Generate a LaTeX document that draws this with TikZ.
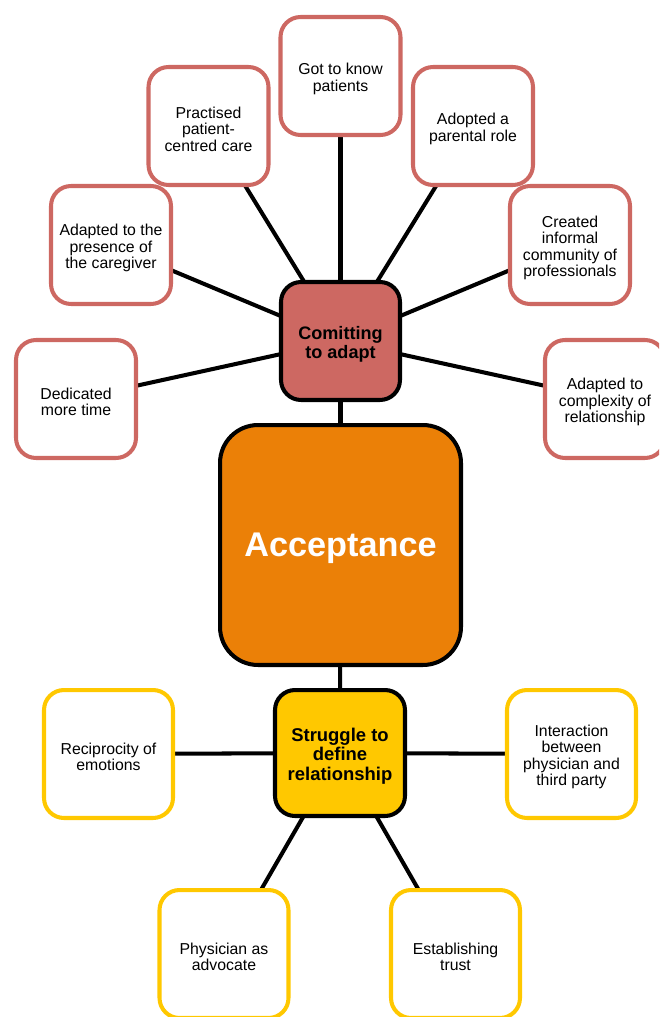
\documentclass[tikz,border=0pt]{standalone}
\usepackage{fontspec}
\setmainfont{Liberation Sans}
\usetikzlibrary{backgrounds}

\definecolor{adaptred}{HTML}{CD6862}
\definecolor{acceptorange}{HTML}{EB8007}
\definecolor{strugglegold}{HTML}{FFC800}
% a little room above the first line, so the text sits lower in its box
\newcommand\capgap{\rule{0pt}{\dimexpr\fontcharht\font`\A+3.8pt\relax}}

\begin{document}
\begin{tikzpicture}[x=0.02cm,y=-0.02cm,
        leaf/.style={draw,line width=2.3pt,fill=white,rounded corners=0.4cm,
            align=center,inner sep=2pt,font=\fontsize{9}{9.3}\selectfont},
        redleaf/.style={leaf,draw=adaptred,minimum width=2.4cm,minimum height=2.36cm},
        goldleaf/.style={leaf,draw=strugglegold,minimum width=2.58cm,minimum height=2.56cm},
        hub/.style={draw=black,line width=2.3pt,rounded corners=0.4cm,align=center,
            font=\bfseries\fontsize{10.3}{10.6}\selectfont},
        link/.style={line width=2.3pt,draw=black}]
        \clip (0,0) rectangle (659,1017);
        % centre and the two hubs
        \node[hub,fill=acceptorange,minimum width=4.82cm,minimum height=4.8cm,
            rounded corners=0.76cm,text=white,font=\bfseries\fontsize{19.5}{22}\selectfont]
            (accept) at (340.5,545) {\capgap Acceptance};
        \node[hub,fill=adaptred,minimum width=2.38cm,minimum height=2.36cm]
            (commit) at (340.5,341) {\capgap Comitting\\to adapt};
        \node[hub,fill=strugglegold,minimum width=2.6cm,minimum height=2.52cm,
            font=\bfseries\fontsize{10.5}{11}\selectfont]
            (struggle) at (340,753) {\capgap Struggle to\\define\\relationship};
        %
        \node[redleaf] (know) at (340.5,76) {\capgap Got to know\\patients};
        \node[redleaf] (practised) at (208.5,126) {\capgap Practised\\patient-\\centred care};
        \node[redleaf] (parental) at (473,126) {\capgap Adopted a\\parental role};
        \node[redleaf] (caregiver) at (111,245) {\capgap Adapted to the\\presence of\\the caregiver};
        \node[redleaf] (community) at (570,245) {\capgap Created\\informal\\community of\\professionals};
        \node[redleaf] (moretime) at (76,399) {\capgap Dedicated\\more time};
        \node[redleaf] (complexity) at (605,399) {\capgap Adapted to\\complexity of\\relationship};
        %
        \node[goldleaf] (reciprocity) at (108.5,754) {\capgap Reciprocity of\\emotions};
        \node[goldleaf] (thirdparty) at (571.5,754) {\capgap Interaction\\between\\physician and\\third party};
        \node[goldleaf] (advocate) at (224,954) {\capgap Physician as\\advocate};
        \node[goldleaf] (trust) at (455.5,954) {\capgap Establishing\\trust};
        %
        \begin{scope}[on background layer]
            \draw[link] (accept.center) -- (commit.center);
            \draw[link] (accept.center) -- (struggle.center);
            \foreach \leafname in {know,practised,parental,caregiver,community,moretime,complexity}
                \draw[link] (commit.center) -- (\leafname.center);
            \foreach \leafname in {reciprocity,thirdparty,advocate,trust}
                \draw[link] (struggle.center) -- (\leafname.center);
        \end{scope}
    \end{tikzpicture}
\end{document}
